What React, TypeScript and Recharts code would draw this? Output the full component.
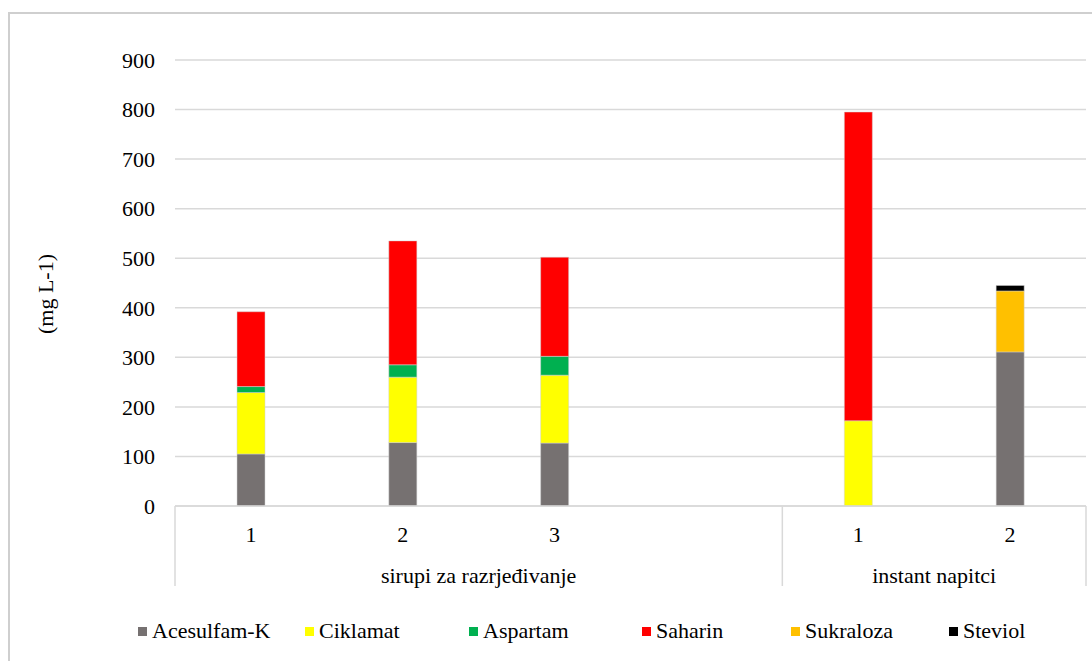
import { BarChart, Bar, XAxis, YAxis, CartesianGrid } from "recharts";

const categories = ["1", "2", "3", "", "1", "2"];
const groups = [
  "sirupi za razrjeđivanje",
  "sirupi za razrjeđivanje",
  "sirupi za razrjeđivanje",
  "sirupi za razrjeđivanje",
  "instant napitci",
  "instant napitci",
];
const acesulfamK = [105, 128, 127, null, null, 311];
const ciklamat = [124, 132, 137, null, 172, null];
const aspartam = [12, 25, 38, null, null, null];
const saharin = [151, 250, 200, null, 623, null];
const sukraloza = [null, null, null, null, null, 123];
const steviol = [null, null, null, null, null, 11];
const yTicks = [0, 100, 200, 300, 400, 500, 600, 700, 800, 900];

const series = [
  { key: "ace", name: "Acesulfam-K", color: "#767171", values: acesulfamK },
  { key: "cik", name: "Ciklamat", color: "#FFFF00", values: ciklamat },
  { key: "asp", name: "Aspartam", color: "#00B050", values: aspartam },
  { key: "sah", name: "Saharin", color: "#FF0000", values: saharin },
  { key: "suk", name: "Sukraloza", color: "#FFC000", values: sukraloza },
  { key: "ste", name: "Steviol", color: "#000000", values: steviol },
];

// legend item widths (layout only)
const legendWidths = [167, 164, 173, 149, 158, 120];

const data = categories.map((c, i) => {
  const row: Record<string, any> = { cat: c, group: groups[i] };
  series.forEach(s => (row[s.key] = s.values[i]));
  return row;
});

const W = 1092;
const H = 661;
const LEFT = 175;
const RIGHT = 6;
const PLOT_W = W - LEFT - RIGHT;
const FONT = "'Liberation Serif', 'Times New Roman', serif";
const FS = 22;
const LINE = "#d9d9d9";

function CatTick(props: any) {
  const { x, y, payload, index } = props;
  const band = PLOT_W / categories.length;
  const g = groups[index];
  const first = index === 0 || groups[index - 1] !== g;
  const lastAll = index === categories.length - 1;
  const n = groups.filter(v => v === g).length;
  return (
    <g>
      <text x={x} y={y + 28} textAnchor="middle" dominantBaseline="central" fontSize={FS} fontFamily={FONT} fill="#000">
        {payload.value}
      </text>
      {first && <line x1={x - band / 2} x2={x - band / 2} y1={y} y2={y + 80} stroke={LINE} strokeWidth={1.5} />}
      {first && (
        <text x={x - band / 2 + (n * band) / 2} y={y + 69} textAnchor="middle" dominantBaseline="central" fontSize={FS} fontFamily={FONT} fill="#000">
          {g}
        </text>
      )}
      {lastAll && <line x1={x + band / 2} x2={x + band / 2} y1={y} y2={y + 80} stroke={LINE} strokeWidth={1.5} />}
    </g>
  );
}

export default function App() {
  return (
    <div style={{ position: "relative", width: W, height: H, background: "#fff" }}>
      <style>{`body{margin:0;overflow:hidden}`}</style>
      <div
        style={{
          position: "absolute",
          left: 8,
          top: 12,
          width: W - 8,
          height: H - 12,
          borderTop: "2px solid #cfcfcf",
          borderLeft: "2px solid #cfcfcf",
          boxSizing: "border-box",
        }}
      />
      <div style={{ position: "absolute", left: 0, top: 0 }}>
        <BarChart width={W} height={H} data={data} margin={{ top: 60, right: RIGHT, bottom: 0, left: 0 }}>
          <CartesianGrid vertical={false} stroke={LINE} strokeWidth={1.5} />
          <XAxis
            dataKey="cat"
            height={155}
            interval={0}
            tickLine={false}
            tickSize={0}
            tickMargin={0}
            axisLine={{ stroke: LINE, strokeWidth: 1.5 }}
            tick={<CatTick />}
          />
          <YAxis
            width={LEFT}
            domain={[0, 900]}
            ticks={yTicks}
            axisLine={false}
            tickLine={false}
            tickSize={0}
            tickMargin={20}
            tick={{ fill: "#000", fontSize: FS, fontFamily: FONT }}
            label={{
              content: (p: any) => {
                const vb = p.viewBox || { y: 60, height: 446 };
                const cy = vb.y + vb.height / 2 + 11;
                return (
                  <text
                    x={45}
                    y={cy}
                    transform={`rotate(-90, 45, ${cy})`}
                    textAnchor="middle"
                    dominantBaseline="central"
                    fontSize={FS}
                    fontFamily={FONT}
                    fill="#000"
                  >
                    (mg L-1)
                  </text>
                );
              },
            }}
          />
          {series.map(s => (
            <Bar
              key={s.key}
              dataKey={s.key}
              name={s.name}
              stackId="a"
              fill={s.color}
              stroke="#d0d0d0"
              strokeWidth={0.5}
              barSize={28}
              isAnimationActive={false}
            />
          ))}
        </BarChart>
      </div>
      <div style={{ position: "absolute", left: 138, top: 618, display: "flex", fontFamily: FONT, fontSize: FS, lineHeight: "26px" }}>
        {series.map((s, i) => (
          <div key={s.key} style={{ width: legendWidths[i], display: "flex", alignItems: "center" }}>
            <span style={{ width: 9, height: 9, background: s.color, marginRight: 5, display: "inline-block" }} />
            <span>{s.name}</span>
          </div>
        ))}
      </div>
    </div>
  );
}
